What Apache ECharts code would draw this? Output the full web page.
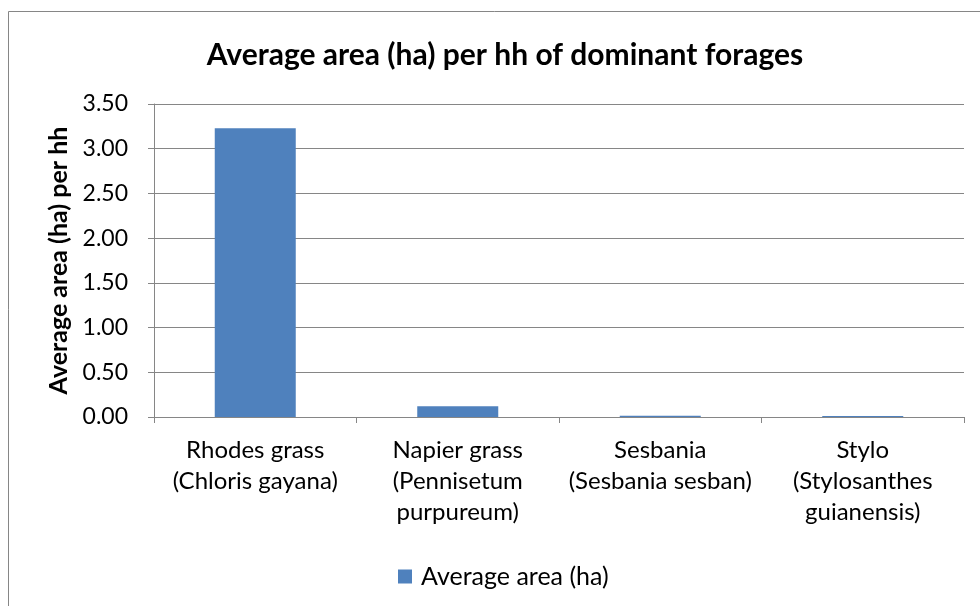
<!DOCTYPE html>
<html>
<head>
<meta charset="utf-8">
<script src="https://cdn.jsdelivr.net/npm/echarts@6/dist/echarts.min.js"></script>
<style>
  html, body { margin: 0; padding: 0; background: #fff; }
  #forageArea { width: 980px; height: 606px; }
</style>
</head>
<body>
<div id="forageArea"></div>
<script>
// forage types (x axis)
const categories = [
  "Rhodes grass\n(Chloris gayana)",
  "Napier grass\n(Pennisetum\npurpureum)",
  "Sesbania\n(Sesbania sesban)",
  "Stylo\n(Stylosanthes\nguianensis)"
];
// average area (ha) per household
const avgArea = [3.23, 0.12, 0.015, 0.01];
const seriesName = "Average area (ha)";

const font = "Lato, 'Open Sans', sans-serif";
const gridColor = "#868686";

let myChart = echarts.init(document.getElementById("forageArea"));
myChart.setOption({
  animation: false,
  title: {
    text: "Average area (ha) per hh of dominant forages",
    left: 500,
    textAlign: "center",
    top: 35,
    textStyle: { fontFamily: font, fontSize: 30, fontWeight: "bold", color: "#000" },
  },
  graphic: [
    {
      type: "rect",
      shape: { x: 8.5, y: 11.5, width: 990, height: 620 },
      style: { fill: null, stroke: gridColor, lineWidth: 1 },
      silent: true,
    },
  ],
  legend: {
    top: 559,
    left: 393,
    itemWidth: 14,
    itemHeight: 14,
    itemGap: 8,
    icon: "rect",
    textStyle: { fontFamily: font, fontSize: 25, color: "#000", padding: [0, 0, 0, 4] },
    data: [seriesName],
  },
  grid: { left: 154, right: 16, top: 104, bottom: 189 },
  xAxis: {
    type: "category",
    data: categories,
    axisLine: { lineStyle: { color: gridColor, width: 1 } },
    axisTick: { show: true, length: 6, lineStyle: { color: gridColor } },
    axisLabel: {
      fontFamily: font,
      fontSize: 24,
      color: "#000",
      lineHeight: 31,
      margin: 18,
      interval: 0,
    },
  },
  yAxis: {
    type: "value",
    min: 0,
    max: 3.5,
    interval: 0.5,
    name: "Average area (ha) per hh",
    nameLocation: "middle",
    nameGap: 82,
    nameRotate: 90,
    nameTextStyle: { fontFamily: font, fontSize: 25, fontWeight: "bold", color: "#000" },
    axisLine: { show: true, lineStyle: { color: gridColor, width: 1 } },
    axisTick: { show: true, length: 6, lineStyle: { color: gridColor } },
    axisLabel: {
      fontFamily: font,
      fontSize: 23,
      color: "#000",
      margin: 26,
      formatter: (v) => v.toFixed(2),
    },
    splitLine: { show: true, lineStyle: { color: gridColor, width: 1 } },
  },
  series: [
    {
      type: "bar",
      name: seriesName,
      data: avgArea,
      barCategoryGap: "60%",
      itemStyle: { color: "#4F81BD" },
    },
  ],
});
</script>
</body>
</html>
